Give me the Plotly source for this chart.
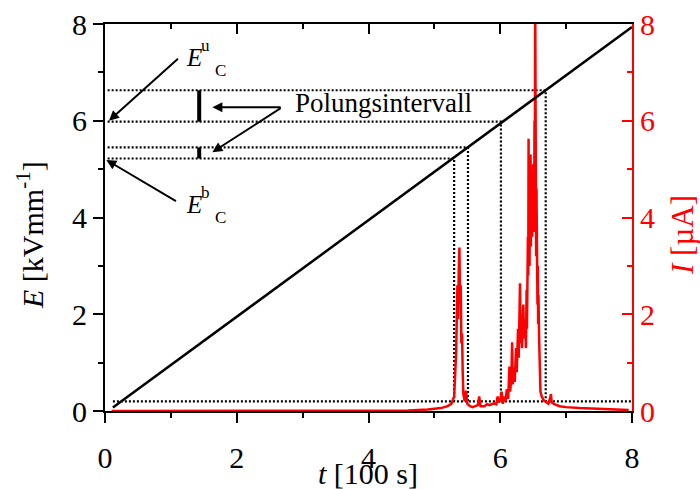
import numpy as np
import plotly.graph_objects as go

# --- field ramp E(t) ---
t_ramp = [0.12, 8.0]
E_ramp = [0.07, 7.94]

# --- current I(t) ---
t_cur = [0.10, 4.60, 4.90, 5.10, 5.20, 5.26, 5.30, 5.33, 5.35, 5.36, 5.37, 5.38, 5.39, 5.40,
         5.41, 5.42, 5.43, 5.44, 5.46, 5.48, 5.50, 5.54, 5.58, 5.62, 5.66, 5.68, 5.70, 5.76,
         5.80, 5.84, 5.90, 5.94, 5.96, 5.98, 6.00, 6.02, 6.04, 6.06, 6.08, 6.10, 6.12, 6.14,
         6.15, 6.17, 6.18, 6.19, 6.21, 6.22, 6.24, 6.25, 6.27, 6.28, 6.30, 6.31, 6.32, 6.33,
         6.35, 6.36, 6.38, 6.39, 6.40, 6.405, 6.41, 6.415, 6.42, 6.425, 6.43, 6.435, 6.44,
         6.445, 6.45, 6.455, 6.46, 6.465, 6.47, 6.475, 6.48, 6.485, 6.49, 6.495, 6.50, 6.505,
         6.51, 6.515, 6.52, 6.525, 6.53, 6.535, 6.54, 6.545, 6.55, 6.555, 6.56, 6.565, 6.57,
         6.575, 6.58, 6.59, 6.60, 6.61, 6.63, 6.66, 6.70, 6.73, 6.76, 6.77, 6.78, 6.82, 6.90,
         7.00, 7.20, 7.50, 7.80, 7.95]
I_cur = [0.00, 0.01, 0.03, 0.06, 0.10, 0.15, 0.30, 1.20, 2.60, 1.90, 2.90, 3.38, 2.20, 2.60,
         1.40, 1.60, 0.80, 0.35, 0.20, 0.42, 0.15, 0.10, 0.08, 0.10, 0.12, 0.30, 0.10, 0.10,
         0.14, 0.12, 0.16, 0.14, 0.30, 0.18, 0.22, 0.40, 0.15, 0.30, 0.20, 0.45, 0.25, 0.92,
         0.40, 0.70, 1.42, 0.55, 0.90, 0.60, 1.30, 0.80, 1.70, 1.10, 2.64, 1.40, 2.00, 1.30,
         2.20, 1.50, 1.90, 1.30, 2.50, 1.70, 2.90, 2.00, 3.60, 2.80, 5.63, 3.20, 4.40,
         3.00, 4.50, 3.60, 5.30, 3.40, 4.90, 3.80, 5.00, 3.60, 4.60, 3.90, 5.10, 3.70,
         4.80, 4.00, 6.00, 4.30, 8.60, 3.90, 4.81, 3.20, 4.60, 2.80, 4.00, 2.20, 3.00,
         1.80, 2.40, 1.50, 0.70, 0.40, 0.30, 0.22, 0.18, 0.15, 0.28, 0.35, 0.18, 0.14, 0.10,
         0.08, 0.06, 0.04, 0.02, 0.02]

# --- poling interval levels and where the ramp crosses them ---
E_base = 0.2
E_levels = [5.22, 5.45, 5.98, 6.63]
t_cross = [5.30, 5.51, 6.01, 6.69]
t_bar = 1.43
bar_lo = [5.22, 5.98]
bar_hi = [5.45, 6.63]

FONT = "Liberation Serif"
BLACK = "#000000"
RED = "#ff0000"
DOTS = "2px,2px"

# plot-area geometry in pixels (used to place the axis titles)
W, H = 700, 489
ML, MR, MT, MB = 105, 68, 24, 78
PW, PH = W - ML - MR, H - MT - MB


def px_to_paper(px, py):
    return (px - ML) / PW, (H - MB - py) / PH


fig = go.Figure()

# baseline dotted level
fig.add_trace(go.Scatter(x=[0.12, 8.0], y=[E_base, E_base], mode="lines",
                         line=dict(color=BLACK, width=2.2, dash=DOTS),
                         hoverinfo="skip", showlegend=False))

# dotted guides: horizontal from the axis to the ramp, then down to the baseline
for lvl, tc in zip(E_levels, t_cross):
    fig.add_trace(go.Scatter(x=[0.04, tc, tc], y=[lvl, lvl, E_base], mode="lines",
                             line=dict(color=BLACK, width=2.2, dash=DOTS),
                             hoverinfo="skip", showlegend=False))

# thick interval bars
for lo, hi in zip(bar_lo, bar_hi):
    fig.add_trace(go.Scatter(x=[t_bar, t_bar], y=[lo, hi], mode="lines",
                             line=dict(color=BLACK, width=4),
                             hoverinfo="skip", showlegend=False))

# field ramp (drawn on the top x axis, same range)
fig.add_trace(go.Scatter(x=t_ramp, y=E_ramp, mode="lines", xaxis="x2", yaxis="y",
                         line=dict(color=BLACK, width=2.5),
                         hoverinfo="skip", showlegend=False))

# current
fig.add_trace(go.Scatter(x=t_cur, y=I_cur, mode="lines", xaxis="x", yaxis="y2",
                         line=dict(color=RED, width=2.5),
                         hoverinfo="skip", showlegend=False))

tickfont = dict(family=FONT, size=30, color=BLACK)
common = dict(range=[0, 8], dtick=2, tick0=0, showgrid=False, zeroline=False,
              showline=True, linewidth=2, tickwidth=2, ticklen=10, automargin=False)

fig.update_layout(
    width=W, height=H,
    margin=dict(l=ML, r=MR, t=MT, b=MB),
    paper_bgcolor="white", plot_bgcolor="white",
    font=dict(family=FONT, color=BLACK),
    showlegend=False,
    xaxis=dict(**common, linecolor=BLACK, ticks="outside", tickcolor=BLACK,
               minor=dict(dtick=1, ticks="outside", ticklen=5, tickwidth=2, tickcolor=BLACK),
               tickfont=tickfont, ticklabelstandoff=9),
    xaxis2=dict(**common, overlaying="x", side="top", anchor="y",
                linecolor=BLACK, ticks="inside", tickcolor=BLACK,
                minor=dict(dtick=1, ticks="inside", ticklen=5, tickwidth=2, tickcolor=BLACK),
                showticklabels=False),
    yaxis=dict(**common, linecolor=BLACK, ticks="outside", tickcolor=BLACK,
               minor=dict(dtick=1, ticks="outside", ticklen=5, tickwidth=2, tickcolor=BLACK),
               tickfont=tickfont),
    yaxis2=dict(**common, overlaying="y", side="right", anchor="x",
                linecolor=RED, ticks="inside", tickcolor=RED,
                minor=dict(dtick=1, ticks="inside", ticklen=5, tickwidth=2, tickcolor=RED),
                tickfont=dict(family=FONT, size=30, color=RED)),
)

# axis titles
title_font = dict(family=FONT, size=30, color=BLACK)
tx, ty = px_to_paper(368, 473)
fig.add_annotation(xref="paper", yref="paper", x=tx, y=ty,
                   xanchor="center", yanchor="middle", showarrow=False,
                   text="<i>t</i> [100 s]", font=title_font)
ex, ey = px_to_paper(30, 235)
fig.add_annotation(xref="paper", yref="paper", x=ex, y=ey,
                   xanchor="center", yanchor="middle", showarrow=False, textangle=-90,
                   text="<i>E</i> [kVmm<sup>-1</sup>]", font=title_font)
ix, iy = px_to_paper(683, 235)
fig.add_annotation(xref="paper", yref="paper", x=ix, y=iy,
                   xanchor="center", yanchor="middle", showarrow=False, textangle=-90,
                   text="<i>I</i> [µA]", font=dict(family=FONT, size=31, color=RED))

arrow = dict(showarrow=True, arrowhead=2, arrowsize=1, arrowwidth=2, arrowcolor=BLACK,
             axref="x", ayref="y", xref="x", yref="y", text="", standoff=0)

# E_C^u arrow and E_C^b arrow
fig.add_annotation(x=0.06, y=6.0, ax=1.13, ay=7.31, **arrow)
fig.add_annotation(x=0.02, y=5.19, ax=1.10, ay=4.32, **arrow)
# poling interval arrows
fig.add_annotation(x=1.63, y=6.28, ax=2.69, ay=6.28, **arrow)
fig.add_annotation(x=1.63, y=5.35, ax=2.69, ay=6.28, **arrow)

fig.add_annotation(x=2.85, y=6.36, xref="x", yref="y", xanchor="left", yanchor="middle",
                   text="Polungsintervall", showarrow=False,
                   font=dict(family=FONT, size=27, color=BLACK))

# coercive field labels: E with superscript (u / b) and subscript C
sym = dict(xref="x", yref="y", xanchor="center", yanchor="middle", showarrow=False,
           borderpad=0)
for e_y, sup, sup_y, sub_y in [(7.31, "u", 7.56, 7.03), (4.26, "b", 4.52, 3.99)]:
    fig.add_annotation(x=1.35, y=e_y, text="<i>E</i>",
                       font=dict(family=FONT, size=25, color=BLACK), **sym)
    fig.add_annotation(x=1.53, y=sup_y, text=sup,
                       font=dict(family=FONT, size=17, color=BLACK), **sym)
    fig.add_annotation(x=1.75, y=sub_y, text="C",
                       font=dict(family=FONT, size=17, color=BLACK), **sym)

fig.write_html("out.html")
